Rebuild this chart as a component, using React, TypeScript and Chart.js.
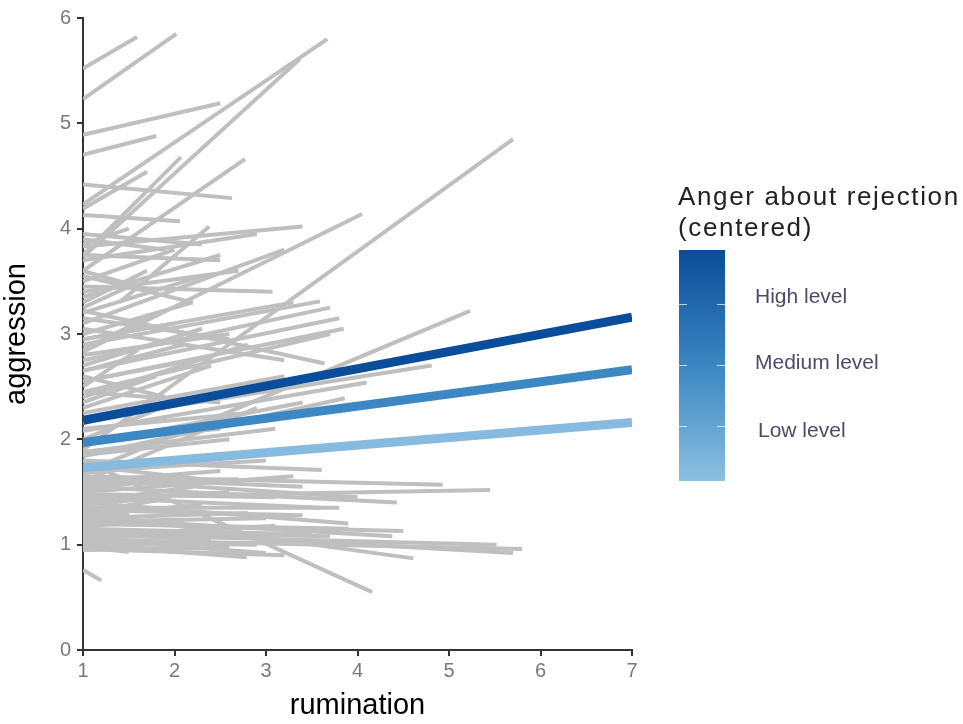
import React, { useEffect, useRef } from "react";
import { Chart, registerables } from "chart.js";

Chart.register(...registerables);

// Fitted lines by anger level: value at rumination = 1 and at rumination = 7
const levelNames = ["High level", "Medium level", "Low level"];
const levelStart = [2.18, 1.97, 1.73];
const levelEnd = [3.16, 2.66, 2.16];
const levelColors = ["#0a4d9b", "#3d88c3", "#86bbdf"];

// Individual (gray) lines: start x, start y, end x, end y
const segX0 = [
  1, 1, 1, 1, 1, 1, 1, 1, 1, 1,
  1, 1.4, 1, 1, 1, 1, 1, 1, 1, 1,
  1, 1, 1, 1, 1, 1, 1, 1, 1, 1,
  1, 1, 1, 1, 1, 1, 1, 1, 1, 1,
  1, 1, 1, 1, 1, 1, 1, 1, 1, 1,
  1, 1, 1, 1, 1, 1, 1, 1, 1, 1,
  1, 1, 1, 1, 1, 1, 1, 1, 1, 1,
  1, 1, 1, 1, 1, 1, 1, 1, 1, 1,
  1, 1, 1, 1, 1, 1, 1, 1, 1, 1,
  1, 1, 1, 1, 1, 1, 1, 1, 1, 1,
  1, 1, 1, 1, 1, 1, 1, 1, 1, 1,
  1, 1, 1, 1, 1, 1, 1,
];
const segY0 = [
  5.52, 5.23, 4.89, 4.70, 4.23, 3.73, 4.42, 4.19, 3.75, 3.60,
  4.13, 3.30, 3.83, 2.83, 1.90, 1.68, 2.18, 2.08, 1.84, 3.22,
  3.95, 3.70, 3.45, 3.50, 3.35, 3.10, 3.00, 2.90, 2.75, 2.65,
  2.55, 2.45, 3.15, 3.05, 2.95, 2.85, 2.40, 2.30, 2.25, 2.60,
  3.60, 3.85, 3.30, 2.70, 2.50, 2.00, 2.10, 1.95, 1.80, 1.65,
  1.45, 1.55, 1.20, 1.25, 1.10, 1.05, 1.15, 1.30, 1.80, 0.76,
  1.05, 1.00, 0.98, 1.70, 1.60, 1.50, 1.40, 1.35, 1.25, 1.15,
  1.10, 1.00, 0.95, 1.20, 1.45, 1.75, 1.30, 1.08, 1.62, 1.85,
  1.68, 1.58, 1.52, 1.48, 1.42, 1.38, 1.33, 1.28, 1.22, 1.18,
  1.12, 1.06, 1.02, 0.99, 0.96, 1.40, 1.55, 1.64, 1.72, 1.25,
  2.35, 2.20, 2.15, 1.98, 1.88, 2.55, 2.80, 3.20, 3.40, 3.55,
  3.90, 3.25, 2.95, 2.65, 3.75, 1.60, 2.45,
];
const segX1 = [
  1.59, 2.02, 2.50, 1.80, 3.67, 3.37, 2.63, 1.70, 2.07, 2.77,
  2.06, 2.38, 3.40, 4.05, 5.70, 5.23, 4.81, 4.10, 3.86, 3.64,
  2.30, 2.90, 3.07, 2.00, 2.50, 3.20, 2.20, 3.59, 3.70, 3.80,
  3.85, 3.70, 2.60, 3.20, 2.00, 1.80, 2.80, 2.40, 3.20, 1.90,
  1.60, 1.50, 1.70, 2.30, 1.60, 2.00, 2.80, 3.40, 3.61, 4.93,
  5.45, 4.43, 4.50, 4.38, 5.52, 5.80, 5.70, 4.61, 4.16, 1.20,
  3.00, 2.79, 1.50, 3.00, 2.50, 3.30, 2.20, 3.80, 2.80, 3.50,
  2.40, 3.30, 2.60, 3.90, 3.60, 2.30, 1.80, 3.10, 4.00, 2.60,
  1.90, 2.70, 1.70, 3.10, 2.60, 1.90, 3.40, 2.30, 3.00, 2.10,
  3.70, 2.20, 2.90, 1.90, 3.20, 3.90, 2.20, 3.40, 1.60, 1.50,
  1.80, 2.60, 1.50, 2.50, 3.10, 2.20, 2.60, 2.30, 2.70, 2.20,
  1.90, 1.50, 3.30, 2.10, 2.50, 2.90, 2.50,
];
const segY1 = [
  5.82, 5.85, 5.19, 4.88, 5.80, 5.61, 4.29, 4.54, 4.68, 4.66,
  4.07, 4.02, 4.02, 4.14, 4.85, 3.22, 2.70, 2.54, 2.39, 2.72,
  3.85, 3.95, 3.40, 3.80, 3.75, 3.80, 3.30, 3.31, 3.25, 3.15,
  3.05, 3.00, 2.95, 2.75, 3.10, 3.20, 2.90, 2.70, 2.60, 2.40,
  3.45, 4.00, 3.60, 3.05, 2.85, 2.35, 2.25, 2.35, 1.71, 1.57,
  1.52, 1.40, 1.13, 1.08, 1.00, 0.96, 0.92, 0.87, 0.55, 0.66,
  0.92, 0.88, 0.93, 1.80, 1.70, 1.65, 1.55, 1.35, 1.30, 1.10,
  1.05, 1.02, 0.97, 1.15, 1.35, 1.62, 1.42, 1.18, 1.45, 2.00,
  1.75, 1.62, 1.60, 1.45, 1.50, 1.45, 1.28, 1.38, 1.25, 1.22,
  1.08, 1.10, 1.00, 0.96, 0.90, 1.20, 1.68, 1.55, 1.75, 1.30,
  2.60, 2.45, 2.30, 2.10, 2.10, 2.75, 3.00, 3.55, 3.60, 3.30,
  3.80, 3.45, 3.30, 2.90, 3.70, 2.30, 2.35,
];

const xTicks = [1, 2, 3, 4, 5, 6, 7];
const yTicks = [0, 1, 2, 3, 4, 5, 6];

const FONT = "'Liberation Sans', Arial, Helvetica, sans-serif";

export default function App() {
  const ref = useRef<HTMLCanvasElement | null>(null);

  useEffect(() => {
    const canvas = ref.current;
    if (!canvas) return;

    const grayDatasets = segX0.map((x0, i) => ({
      type: "line" as const,
      label: "person " + (i + 1),
      data: [
        { x: x0, y: segY0[i] },
        { x: segX1[i], y: segY1[i] },
      ],
      borderColor: "#bfbfbf",
      borderWidth: 4,
      pointRadius: 0,
      order: 1,
    }));

    const levelDatasets = levelNames.map((name, i) => ({
      type: "line" as const,
      label: name,
      data: [
        { x: 1, y: levelStart[i] },
        { x: 7, y: levelEnd[i] },
      ],
      borderColor: levelColors[i],
      borderWidth: 9,
      pointRadius: 0,
      order: 0,
    }));

    const chart = new Chart(canvas, {
      type: "line",
      data: { datasets: [...levelDatasets, ...grayDatasets] as any },
      options: {
        animation: false,
        responsive: false,
        maintainAspectRatio: false,
        layout: { padding: { left: 0, right: 331, top: 16, bottom: 0 } },
        plugins: { legend: { display: false }, tooltip: { enabled: false } },
        scales: {
          x: {
            type: "linear",
            min: 1,
            max: 7,
            afterFit: (s: any) => {
              s.height = 74;
            },
            afterBuildTicks: (s: any) => {
              s.ticks = xTicks.map((v) => ({ value: v }));
            },
            ticks: {
              color: "#7a7a7a",
              font: { family: FONT, size: 20 },
              padding: 3,
              maxRotation: 0,
            },
            grid: {
              drawOnChartArea: false,
              drawTicks: true,
              tickLength: 6,
              color: "#333333",
              lineWidth: 2,
            },
            border: { display: true, color: "#333333", width: 2 },
            title: {
              display: true,
              text: "rumination",
              color: "#000000",
              font: { family: FONT, size: 29, lineHeight: 1 },
              padding: { top: 0, bottom: 4 },
            },
          },
          y: {
            type: "linear",
            min: 0,
            max: 6,
            afterFit: (s: any) => {
              s.width = 83;
            },
            afterBuildTicks: (s: any) => {
              s.ticks = yTicks.map((v) => ({ value: v }));
            },
            ticks: {
              color: "#7a7a7a",
              font: { family: FONT, size: 20 },
              padding: 6,
            },
            grid: {
              drawOnChartArea: false,
              drawTicks: true,
              tickLength: 6,
              color: "#333333",
              lineWidth: 2,
            },
            border: { display: true, color: "#333333", width: 2 },
            title: {
              display: true,
              text: "aggression",
              color: "#000000",
              font: { family: FONT, size: 29, lineHeight: 1 },
              padding: { top: 2, bottom: 0 },
            },
          },
        },
      },
    });

    return () => chart.destroy();
  }, []);

  const tickMark = (top: number, side: "left" | "right") => (
    <div
      key={side + top}
      style={{
        position: "absolute",
        top,
        [side]: 0,
        width: 8,
        height: 1,
        background: "rgba(255,255,255,0.7)",
      }}
    />
  );

  const labelTops = [296, 362, 430];
  const labelLefts = [755, 755, 758];
  const barTicks = [304 - 250, 365 - 250, 426 - 250];

  return (
    <div
      style={{
        position: "absolute",
        left: 0,
        top: 0,
        width: 963,
        height: 724,
        background: "#ffffff",
        overflow: "hidden",
      }}
    >
      <canvas ref={ref} width={963} height={724} style={{ position: "absolute", left: 0, top: 0 }} />
      <div
        style={{
          position: "absolute",
          left: 678,
          top: 181,
          fontFamily: FONT,
          fontSize: 26,
          lineHeight: "31px",
          color: "#222222",
          letterSpacing: 1.65,
          whiteSpace: "nowrap",
        }}
      >
        Anger about rejection
        <br />
        (centered)
      </div>
      <div
        style={{
          position: "absolute",
          left: 679,
          top: 250,
          width: 46,
          height: 231,
          background: "linear-gradient(to bottom, #0b4c99, #3b86c2 50%, #8cc0e1)",
        }}
      >
        {barTicks.map((t) => tickMark(t, "left"))}
        {barTicks.map((t) => tickMark(t, "right"))}
      </div>
      {levelNames.map((name, i) => (
        <div
          key={name}
          style={{
            position: "absolute",
            left: labelLefts[i],
            top: labelTops[i] - 13,
            height: 26,
            lineHeight: "26px",
            fontFamily: FONT,
            fontSize: 21,
            color: "#4b4b6a",
            whiteSpace: "nowrap",
          }}
        >
          {name}
        </div>
      ))}
    </div>
  );
}
